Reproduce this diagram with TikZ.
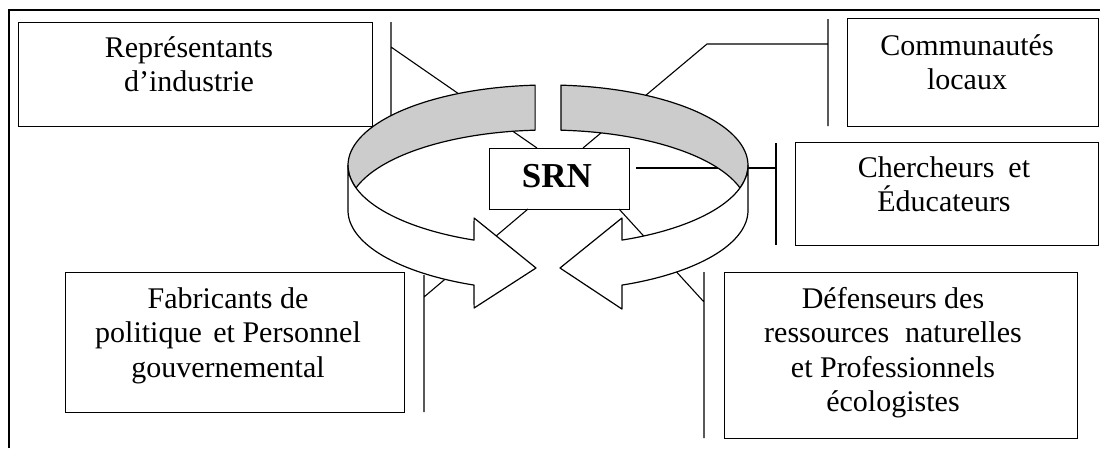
\documentclass[tikz,border=0pt]{standalone}
\usepackage{fontspec}
\setmainfont{Liberation Serif}
\usetikzlibrary{calc}
\begin{document}
\begin{tikzpicture}[x=1pt,y=-1pt,
  box/.style={draw, line width=1.3pt, inner sep=0pt, anchor=north west, fill=white},
  lbl/.style={font=\fontsize{30}{34.5}\selectfont, align=center, inner sep=0pt, anchor=base},
  conn/.style={line width=1.1pt},
  band/.style={draw, line width=1.2pt, line join=round}]
\useasboundingbox (0,0) rectangle (1100,448);
\def\cx{548}\def\cyt{165.4}\def\cyb{210.4}\def\ra{200}\def\rb{80.4}
% frame
\draw[line width=2pt] (9,448) -- (9,10) -- (1100,10);
% boxes
\node[box, minimum width=354pt, minimum height=104pt] (rep) at (18,22) {};
\node[box, minimum width=339pt, minimum height=140pt] (fab) at (65,272) {};
\node[box, minimum width=251pt, minimum height=108pt] (comm) at (847,18) {};
\node[box, minimum width=303pt, minimum height=103pt] (cher) at (795,142) {};
\node[box, minimum width=353pt, minimum height=166pt] (def) at (724,272) {};
\node[box, minimum width=140pt, minimum height=61pt] (srn) at (489,148) {};
% labels (anchored at the baseline of their last line)
\node[lbl] (reptxt) at (189,91.5) {Représentants\\d’industrie};
\node[lbl] (commtxt) at (967,89.5) {Communautés\\locaux};
\node[lbl] (chertxt) at (944,211.5) {Chercheurs\hspace{14pt}et\\Éducateurs};
\node[lbl] (fabtxt) at (228,377) {Fabricants de\\politique\hspace{4pt} et Personnel\\gouvernemental};
\node[lbl] (deftxt) at (893,411.5) {Défenseurs des\\ressources\hspace{16pt}naturelles\\et Professionnels\\écologistes};
\node[font=\fontsize{35}{40}\selectfont\bfseries, inner sep=0pt, anchor=base] (srntxt) at (557,187) {SRN};
% connector bars and lines
\coordinate (b1t) at (391,22); \coordinate (b1b) at (391,126); \coordinate (b1) at (391,47);
\coordinate (b2t) at (424,275); \coordinate (b2b) at (424,412); \coordinate (b2) at (424,297);
\coordinate (b3t) at (828,19); \coordinate (b3b) at (828,126); \coordinate (b3) at (828,44); \coordinate (b3k) at (707,44);
\coordinate (b4t) at (776,143); \coordinate (b4b) at (776,245); \coordinate (b4) at (776,168);
\coordinate (b5t) at (704,272); \coordinate (b5b) at (704,438); \coordinate (b5) at (704,302);
\coordinate (s1) at (537,148); \coordinate (s2) at (528,209); \coordinate (s3) at (583,148);
\coordinate (s4) at (636,168); \coordinate (s5) at (619,209);
\draw[conn] (b1t) -- (b1b) (b1) -- (s1);
\draw[conn] (b2t) -- (b2b) (b2) -- (s2);
\draw[conn] (b3t) -- (b3b) (b3) -- (b3k) -- (s3);
\draw[conn] (b4t) -- (b4b) (b4) -- (s4);
\draw[conn] (b5t) -- (b5b) (b5) -- (s5);
% circular arrows: left
\filldraw[band, fill=gray!40]
  plot[domain=266.3:163.7, samples=60] ({\cx+\ra*cos(\x)},{\cyt+\rb*sin(\x)})
  -- plot[domain=196.3:266.3, samples=40] ({\cx+\ra*cos(\x)},{\cyb+\rb*sin(\x)}) -- cycle;
\filldraw[band, fill=white]
  plot[domain=180:111.7, samples=40] ({\cx+\ra*cos(\x)},{\cyt+\rb*sin(\x)})
  -- (474.1,218) -- (536,268) -- (474.1,308)
  -- plot[domain=111.7:180, samples=40] ({\cx+\ra*cos(\x)},{\cyb+\rb*sin(\x)}) -- cycle;
% right
\filldraw[band, fill=gray!40]
  plot[domain=-86.3:16.3, samples=60] ({\cx+\ra*cos(\x)},{\cyt+\rb*sin(\x)})
  -- plot[domain=-16.3:-86.3, samples=40] ({\cx+\ra*cos(\x)},{\cyb+\rb*sin(\x)}) -- cycle;
\filldraw[band, fill=white]
  plot[domain=0:68.3, samples=40] ({\cx+\ra*cos(\x)},{\cyt+\rb*sin(\x)})
  -- (621.9,218) -- (560,268) -- (621.9,309)
  -- plot[domain=68.3:0, samples=40] ({\cx+\ra*cos(\x)},{\cyb+\rb*sin(\x)}) -- cycle;
\end{tikzpicture}
\end{document}
